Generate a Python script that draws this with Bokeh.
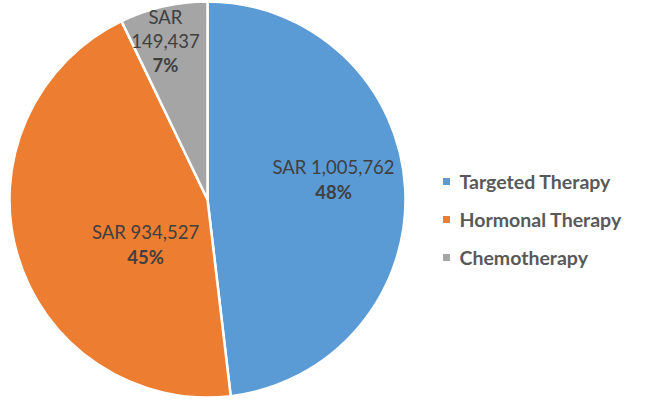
import numpy as np
from bokeh.plotting import figure
from bokeh.models import ColumnDataSource, Range1d
from bokeh.core.properties import value
from bokeh.embed import file_html
from bokeh.resources import INLINE

categories = ["Targeted Therapy", "Hormonal Therapy", "Chemotherapy"]
amounts = [1005762, 934527, 149437]
percent_labels = ["48%", "45%", "7%"]
colors = ["#5B9BD5", "#ED7D31", "#A5A5A5"]

W, H = 631, 398
cx, cy, R = 207, 199, 198

total = float(sum(amounts))
fr = np.array(amounts) / total
cum = np.concatenate([[0], np.cumsum(fr)])
start = np.pi / 2 - cum[:-1] * 2 * np.pi
end = np.pi / 2 - cum[1:] * 2 * np.pi

p = figure(width=W, height=H, output_backend="svg", toolbar_location=None,
           x_range=Range1d(0, W), y_range=Range1d(0, H), min_border=0)
p.axis.visible = False
p.grid.visible = False
p.outline_line_color = None
p.background_fill_color = "white"

src = ColumnDataSource(dict(start=start, end=end, color=colors, cat=categories))
p.wedge(x=cx, y=cy, radius=R, start_angle="start", end_angle="end", direction="clock",
        fill_color="color", line_color="white", line_width=2.5, source=src)

font = value("Lato")
lab_col = "#404040"
fs = "18.5px"

def fmt(v):
    return "SAR " + f"{v:,}"

# Targeted
p.text(x=[333], y=[232], text=[fmt(amounts[0])], text_font=font, text_font_size=fs,
       text_align="center", text_baseline="middle", text_color=lab_col)
p.text(x=[333], y=[207], text=[percent_labels[0]], text_font=font, text_font_size=fs,
       text_font_style="bold", text_align="center", text_baseline="middle", text_color=lab_col)
# Hormonal
p.text(x=[145], y=[167], text=[fmt(amounts[1])], text_font=font, text_font_size=fs,
       text_align="center", text_baseline="middle", text_color=lab_col)
p.text(x=[145], y=[142], text=[percent_labels[1]], text_font=font, text_font_size=fs,
       text_font_style="bold", text_align="center", text_baseline="middle", text_color=lab_col)
# Chemo
p.text(x=[165, 165], y=[382, 358], text=["SAR", f"{amounts[2]:,}"], text_font=font, text_font_size=fs,
       text_align="center", text_baseline="middle", text_color=lab_col)
p.text(x=[165], y=[334], text=[percent_labels[2]], text_font=font, text_font_size=fs,
       text_font_style="bold", text_align="center", text_baseline="middle", text_color=lab_col)

# legend
ly = [217, 179, 141]
p.rect(x=[446] * 3, y=ly, width=7, height=7, fill_color=colors, line_color=None)
p.text(x=[459] * 3, y=ly, text=categories, text_font=font, text_font_size="19.5px",
       text_font_style="bold", text_align="left", text_baseline="middle", text_color="#595959")

open("out.html", "w").write(file_html(p, INLINE))
